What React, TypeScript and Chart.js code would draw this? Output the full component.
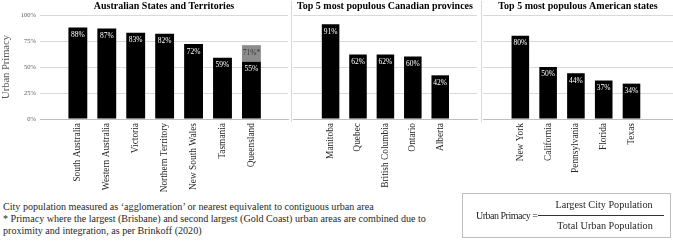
import React, { useEffect, useRef } from "react";
import { Chart, registerables } from "chart.js";

Chart.register(...registerables);

// ---------------- data ----------------
const ausStates = [
  "South Australia",
  "Western Australia",
  "Victoria",
  "Northern Territory",
  "New South Wales",
  "Tasmania",
  "Queensland",
];
const ausPrimacy = [88, 87, 83, 82, 72, 59, 55];
const qldIndex = 6;
const qldCombinedPrimacy = 71; // Brisbane + Gold Coast combined

const canProvinces = ["Manitoba", "Quebec", "British Columbia", "Ontario", "Alberta"];
const canPrimacy = [91, 62, 62, 60, 42];

const usStates = ["New York", "California", "Pennsylvania", "Florida", "Texas"];
const usPrimacy = [80, 50, 44, 37, 34];

const yTickStep = 25;
const yMax = 100;

const titles = [
  "Australian States and Territories",
  "Top 5 most populous Canadian provinces",
  "Top 5 most populous American states",
];

const footnotes = [
  "City population measured as \u2018agglomeration\u2019 or nearest equivalent to contiguous urban area",
  "* Primacy where the largest (Brisbane) and second largest (Gold Coast) urban areas are combined due to",
  "proximity and integration, as per Brinkoff (2020)",
];

// ---------------- styles ----------------
const FONT = "'Liberation Serif', 'Times New Roman', Times, serif";

const barLabelPlugin = {
  id: "barLabels",
  afterDatasetsDraw(chart: any) {
    const ctx = chart.ctx;
    chart.data.datasets.forEach((ds: any, di: number) => {
      const meta = chart.getDatasetMeta(di);
      meta.data.forEach((bar: any, i: number) => {
        const raw = ds.data[i].y;
        const isFloat = Array.isArray(raw);
        const top = isFloat ? raw[1] : raw;
        const text = top + "%" + (isFloat ? "*" : "");
        ctx.save();
        ctx.fillStyle = ds.labelColor || "#fff";
        ctx.font = `7.5px ${FONT}`;
        ctx.textAlign = "center";
        ctx.textBaseline = "middle";
        ctx.fillText(text, bar.x, bar.y + 7.5);
        ctx.restore();
      });
    });
  },
};

type PanelProps = {
  title: string;
  labels: string[];
  values: number[];
  combined?: { index: number; value: number };
  showY: boolean;
  left: number;
  width: number;
  height: number;
  yAxisWidth: number;
  padLeft: number;
  padRight: number;
  xMin: number;
  xMax: number;
  barPct: number;
};

function Panel(p: PanelProps) {
  const ref = useRef<HTMLCanvasElement>(null);
  useEffect(() => {
    if (!ref.current) return;
    const datasets: any[] = [
      {
        data: p.values.map((v, i) => ({ x: i, y: v })),
        backgroundColor: "#000",
        borderWidth: 0,
        barPercentage: p.barPct,
        categoryPercentage: 1,
        grouped: false,
        labelColor: "#fff",
      },
    ];
    if (p.combined) {
      datasets.push({
        data: [
          {
            x: p.combined.index,
            y: [p.values[p.combined.index], p.combined.value],
          },
        ],
        backgroundColor: "#8c8c8c",
        borderWidth: 0,
        barPercentage: p.barPct,
        categoryPercentage: 1,
        grouped: false,
        labelColor: "#3a3a3a",
      });
    }
    const xAxisHeight = p.height - 119;
    const chart = new Chart(ref.current, {
      type: "bar",
      data: { datasets },
      plugins: [barLabelPlugin],
      options: {
        responsive: false,
        animation: false,
        layout: { padding: { left: p.padLeft, right: p.padRight, top: 0, bottom: 0 } },
        plugins: {
          legend: { display: false },
          tooltip: { enabled: false },
          title: {
            display: true,
            text: p.title,
            fullSize: false,
            color: "#000",
            font: { family: FONT, size: 10, weight: "bold" },
            padding: { top: 0, bottom: 3 },
          },
        },
        scales: {
          x: {
            type: "linear",
            min: p.xMin,
            max: p.xMax,
            grid: { display: false, drawTicks: false },
            border: { display: true, color: "#bfbfbf" },
            afterBuildTicks: (axis: any) => {
              axis.ticks = p.labels.map((_, i) => ({ value: i }));
            },
            afterFit: (scale: any) => {
              scale.height = xAxisHeight;
            },
            ticks: {
              autoSkip: false,
              maxRotation: 90,
              minRotation: 90,
              padding: 4,
              color: "#262626",
              font: { family: FONT, size: 9.4 },
              callback: (v: any) => p.labels[v] ?? "",
            },
          },
          y: {
            min: 0,
            max: yMax,
            grid: { color: "#d9d9d9", drawTicks: false },
            border: { display: false },
            afterFit: (scale: any) => {
              scale.width = p.yAxisWidth;
            },
            title: {
              display: p.showY,
              text: "Urban Primacy",
              color: "#595959",
              font: { family: FONT, size: 10.5 },
              padding: { top: 0, bottom: 0 },
            },
            ticks: {
              display: p.showY,
              stepSize: yTickStep,
              padding: 4,
              color: "#595959",
              font: { family: FONT, size: 6.5 },
              callback: (v: any) => v + "%",
            },
          },
        },
      } as any,
    });
    return () => chart.destroy();
  }, []);
  return (
    <canvas
      ref={ref}
      width={p.width}
      height={p.height}
      style={{ position: "absolute", left: p.left, top: 0, width: p.width, height: p.height }}
    />
  );
}

const textStyle: React.CSSProperties = {
  position: "absolute",
  fontFamily: FONT,
  color: "#1f1f1f",
  whiteSpace: "nowrap",
};

export default function App() {
  const H = 200;
  return (
    <div
      style={{
        position: "fixed",
        left: 0,
        top: 0,
        width: 673,
        height: 241,
        background: "#fff",
        overflow: "hidden",
      }}
    >
      <Panel
        title={titles[0]}
        labels={ausStates}
        values={ausPrimacy}
        combined={{ index: qldIndex, value: qldCombinedPrimacy }}
        showY={true}
        left={0}
        width={290}
        height={H}
        yAxisWidth={40}
        padLeft={0}
        padRight={2}
        xMin={-0.696}
        xMax={6.652}
        barPct={0.652}
      />
      <Panel
        title={titles[1]}
        labels={canProvinces}
        values={canPrimacy}
        showY={false}
        left={292}
        width={188}
        height={H}
        yAxisWidth={0}
        padLeft={1}
        padRight={3}
        xMin={-0.7}
        xMax={4.67}
        barPct={0.64}
      />
      <Panel
        title={titles[2]}
        labels={usStates}
        values={usPrimacy}
        showY={false}
        left={482}
        width={191}
        height={H}
        yAxisWidth={0}
        padLeft={1}
        padRight={0}
        xMin={-0.66}
        xMax={4.81}
        barPct={0.633}
      />
      {/* panel separators */}
      <div style={{ position: "absolute", left: 291, top: 1, width: 1, height: 121, background: "#d9d9d9" }} />
      <div style={{ position: "absolute", left: 481, top: 1, width: 1, height: 121, background: "#d9d9d9" }} />

      {/* footnotes */}
      <div style={{ ...textStyle, left: 3, top: 201, fontSize: 10.1, lineHeight: "12px" }}>
        {footnotes.map((t, i) => (
          <div key={i}>{t}</div>
        ))}
      </div>

      {/* formula box */}
      <div
        style={{
          position: "absolute",
          left: 462,
          top: 193,
          width: 209,
          height: 45,
          boxSizing: "border-box",
          border: "1px solid #bfbfbf",
        }}
      />
      <div style={{ ...textStyle, left: 476, top: 210, fontSize: 10, lineHeight: "12px", letterSpacing: "-0.5px" }}>
        Urban Primacy =
      </div>
      <div style={{ position: "absolute", left: 538, top: 215, width: 126, height: 1, background: "#333" }} />
      <div style={{ ...textStyle, left: 538, top: 199, width: 132, textAlign: "center", fontSize: 10.2, lineHeight: "12px" }}>
        Largest City Population
      </div>
      <div style={{ ...textStyle, left: 538, top: 220, width: 134, textAlign: "center", fontSize: 10.2, lineHeight: "12px" }}>
        Total Urban Population
      </div>
    </div>
  );
}
